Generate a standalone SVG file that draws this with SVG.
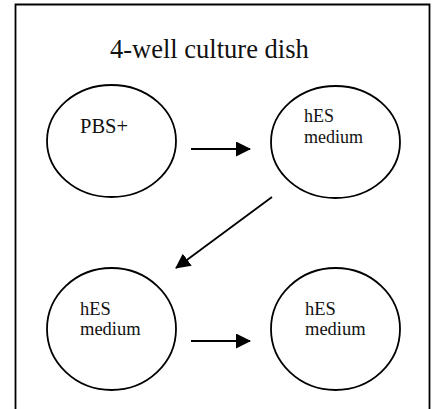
<svg xmlns="http://www.w3.org/2000/svg" width="432" height="409" viewBox="0 0 432 409">
<style>
.well{fill:#fff;stroke:#000;stroke-width:1.8}
.lbl{font-family:"Liberation Serif","Times New Roman",serif;fill:#111}
.conn{stroke:#000;stroke-width:1.8;fill:none}
</style>
<defs>
<marker id="ah" markerWidth="15" markerHeight="15" refX="14" refY="7.5" orient="auto" markerUnits="userSpaceOnUse">
<path d="M0,0 L15,7.5 L0,15 Z" fill="#000"/>
</marker>
</defs>
<rect width="432" height="409" fill="#fff"/>
<g id="dish">
<path d="M15.5,409 V4.5 H429.5 V409" fill="none" stroke="#000" stroke-width="1.8"/>
<text class="lbl" x="110" y="58" font-size="26.5">4-well culture dish</text>
</g>
<g id="well1">
<ellipse class="well" cx="111.5" cy="141" rx="64.5" ry="56"/>
<text class="lbl" x="80" y="133" font-size="20.5">PBS+</text>
</g>
<g id="well2">
<ellipse class="well" cx="335.5" cy="142" rx="64.5" ry="56"/>
<text class="lbl" x="304" y="122" font-size="18">hES</text>
<text class="lbl" x="304" y="143" font-size="18">medium</text>
</g>
<g id="well3">
<ellipse class="well" cx="111.5" cy="329" rx="64.5" ry="61"/>
<text class="lbl" x="80" y="315" font-size="18.5">hES</text>
<text class="lbl" x="80" y="335" font-size="18.5">medium</text>
</g>
<g id="well4">
<ellipse class="well" cx="335.5" cy="329" rx="64.5" ry="61"/>
<text class="lbl" x="305" y="315" font-size="18.5">hES</text>
<text class="lbl" x="305" y="335" font-size="18.5">medium</text>
</g>
<g id="connectors">
<line class="conn" x1="191" y1="149" x2="250" y2="149" marker-end="url(#ah)"/>
<line class="conn" x1="272" y1="197" x2="176" y2="268" marker-end="url(#ah)"/>
<line class="conn" x1="191" y1="341" x2="250" y2="341" marker-end="url(#ah)"/>
</g>
</svg>
